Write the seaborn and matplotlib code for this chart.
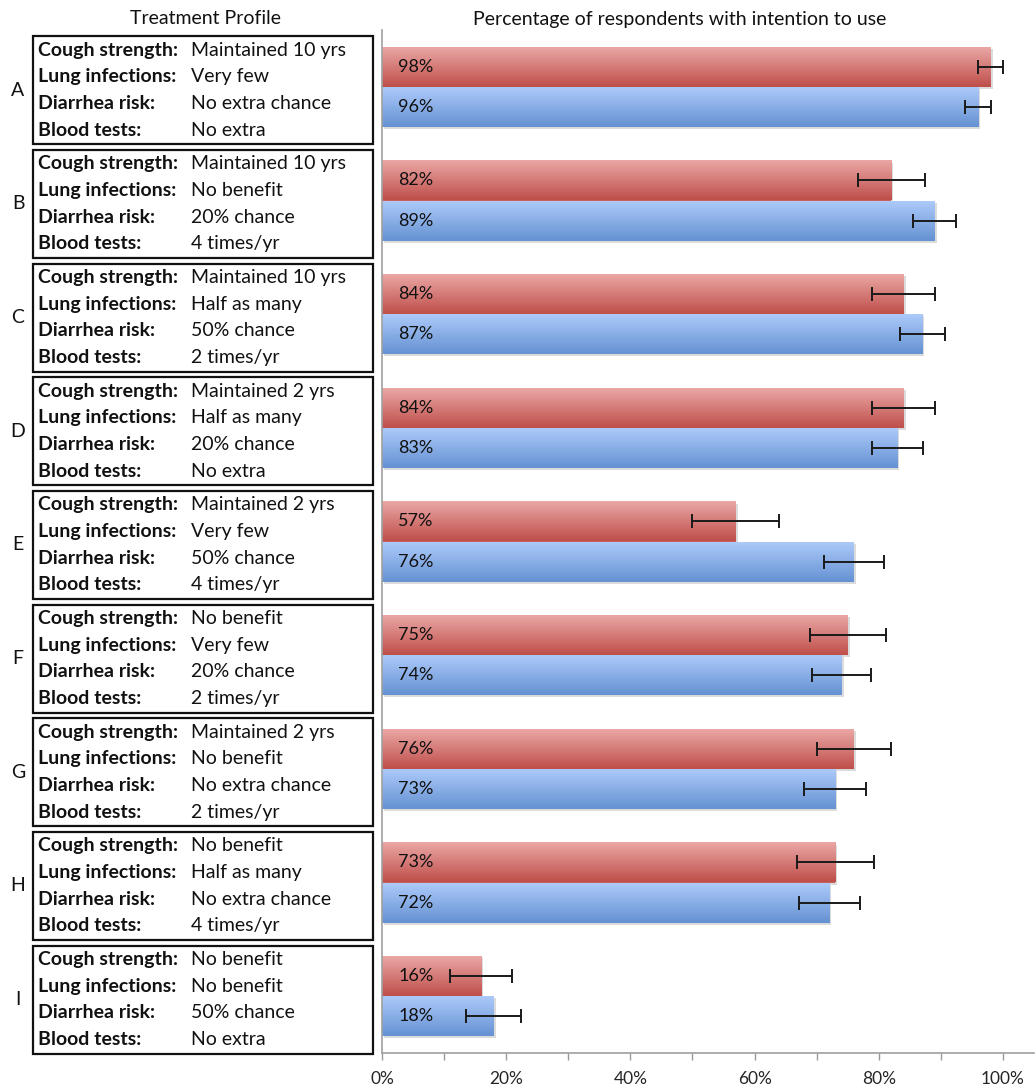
import numpy as np
import pandas as pd
import matplotlib
matplotlib.use("Agg")
import matplotlib.pyplot as plt
import seaborn as sns
from matplotlib.patches import Rectangle
from matplotlib import patheffects as pe
from matplotlib.colors import LinearSegmentedColormap

# ---- data ---------------------------------------------------------------
profiles = ["A", "B", "C", "D", "E", "F", "G", "H", "I"]
series_names = ["Series 1", "Series 2"]
series1_pct = [98, 82, 84, 84, 57, 75, 76, 73, 16]
series2_pct = [96, 89, 87, 83, 76, 74, 73, 72, 18]
series1_err = [2.0, 5.4, 5.1, 5.1, 7.0, 6.1, 6.0, 6.2, 5.0]
series2_err = [2.1, 3.5, 3.6, 4.1, 4.8, 4.8, 5.0, 4.9, 4.4]

attr_names = ["Cough strength:", "Lung infections:", "Diarrhea risk:", "Blood tests:"]
cough = ["Maintained 10 yrs", "Maintained 10 yrs", "Maintained 10 yrs",
         "Maintained 2 yrs", "Maintained 2 yrs", "No benefit",
         "Maintained 2 yrs", "No benefit", "No benefit"]
lung = ["Very few", "No benefit", "Half as many", "Half as many", "Very few",
        "Very few", "No benefit", "Half as many", "No benefit"]
diarrhea = ["No extra chance", "20% chance", "50% chance", "20% chance",
            "50% chance", "20% chance", "No extra chance", "No extra chance",
            "50% chance"]
blood = ["No extra", "4 times/yr", "2 times/yr", "No extra", "4 times/yr",
         "2 times/yr", "2 times/yr", "4 times/yr", "No extra"]

x_ticks = [0, 20, 40, 60, 80, 100]
x_tick_labels = ["0%", "20%", "40%", "60%", "80%", "100%"]
x_minor_ticks = [10, 30, 50, 70, 90]

left_title = "Treatment Profile"
right_title = "Percentage of respondents with intention to use"

# ---- styling ------------------------------------------------------------
sns.set_style("white")
plt.rcParams["font.family"] = ["Lato", "DejaVu Sans"]

base_colors = ["#C9605D", "#7FA6E3"]
grad_colors = [("#EBA9A7", "#BF4F4B"), ("#AECBFA", "#6592D3")]

df = pd.DataFrame({
    "profile": profiles * 2,
    "pct": series1_pct + series2_pct,
    "series": [series_names[0]] * len(profiles) + [series_names[1]] * len(profiles),
})
errs = [series1_err, series2_err]

W, H = 1035, 1089
fig = plt.figure(figsize=(W / 100, H / 100), dpi=100)
ax_bottom = (H - 1053) / H
ax_top = (H - 30) / H
ax = fig.add_axes([382 / W, ax_bottom, (1034 - 382) / W, ax_top - ax_bottom])
ax_l = fig.add_axes([0, ax_bottom, 382 / W, ax_top - ax_bottom])

sns.barplot(data=df, y="profile", x="pct", hue="series", orient="h",
            palette=base_colors, width=0.704, dodge=True, legend=False,
            errorbar=None, saturation=1, ax=ax, zorder=2)

ax.set_xlim(0, 105)
ax.set_ylim(len(profiles) - 0.5, -0.5)

shadow = [pe.SimplePatchShadow(offset=(1.5, -1.5), shadow_rgbFace="#888888",
                               alpha=0.3), pe.Normal()]
grad = np.linspace(0, 1, 64).reshape(-1, 1)
bar_containers = list(ax.containers)[:2]
for ci, cont in enumerate(bar_containers):
    cmap = LinearSegmentedColormap.from_list(f"g{ci}", grad_colors[ci])
    for bi, bar in enumerate(cont):
        bar.set_edgecolor("none")
        bar.set_path_effects(shadow)
        x0, y0 = bar.get_x(), bar.get_y()
        w, h = bar.get_width(), bar.get_height()
        im = ax.imshow(grad, cmap=cmap, aspect="auto", origin="upper",
                       extent=(x0, x0 + w, y0 + h, y0), zorder=2.5,
                       interpolation="bilinear")
        im.set_clip_path(bar)
        yc = y0 + h / 2
        ax.errorbar(w, yc, xerr=errs[ci][bi], fmt="none", ecolor="#1a1a1a",
                    elinewidth=1.4, capsize=5, capthick=1.4, zorder=4)
        ax.text(2.6, yc, f"{w:.0f}%", va="center", ha="left", fontsize=13,
                color="#111111", zorder=5)

ax.set_xlim(0, 105)
ax.set_ylim(len(profiles) - 0.5, -0.5)
ax.set_xticks(x_ticks)
ax.set_xticks(x_minor_ticks, minor=True)
ax.set_xticklabels(x_tick_labels, fontsize=12.5)
ax.tick_params(axis="x", which="both", direction="out", length=5, width=1,
               color="#999999", pad=8, bottom=True)
ax.set_yticks([])
ax.set_xlabel("")
ax.set_ylabel("")
for s in ["top", "right"]:
    ax.spines[s].set_visible(False)
for s in ["left", "bottom"]:
    ax.spines[s].set_color("#a0a0a0")
    ax.spines[s].set_linewidth(1.2)
ax.set_facecolor("none")

# ---- profile boxes ------------------------------------------------------
ax_l.set_xlim(0, 382)
ax_l.set_ylim(len(profiles) - 0.5, -0.5)
ax_l.axis("off")
band_px = (1053 - 30) / len(profiles)
line_off = [-40 / band_px, -13.3 / band_px, 13.3 / band_px, 40 / band_px]
values = [cough, lung, diarrhea, blood]
for i, p in enumerate(profiles):
    yc = i + 0.03
    ax_l.add_patch(Rectangle((33, yc - 0.475), 340, 0.95, fill=False,
                             edgecolor="#111111", linewidth=1.6,
                             clip_on=False))
    ax_l.text(18, yc, p, ha="center", va="center", fontsize=14, color="#111111")
    for k in range(4):
        ax_l.text(38, yc + line_off[k], attr_names[k], ha="left", va="center",
                  fontsize=14, fontweight="bold", color="#111111")
        ax_l.text(191, yc + line_off[k], values[k][i], ha="left", va="center",
                  fontsize=14, color="#111111")

fig.text(205 / W, 1 - 19 / H, left_title, ha="center", va="center",
         fontsize=14, color="#111111")
fig.text(680 / W, 1 - 19 / H, right_title, ha="center", va="center",
         fontsize=14, color="#111111")

fig.savefig("out.png", dpi=100, facecolor="white")
